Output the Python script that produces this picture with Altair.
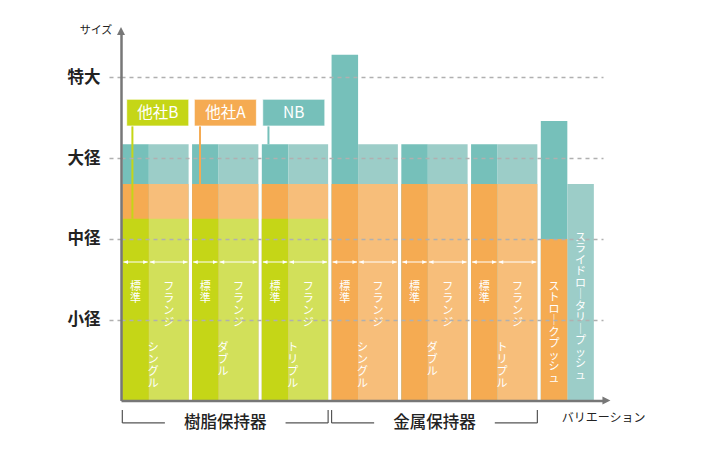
import altair as alt
import pandas as pd

# ---------------- data ----------------
groups = ["樹脂保持器", "金属保持器"]
series = ["シングル", "ダブル", "トリプル"]
kinds = ["標準", "フランジ"]
size_labels = ["小径", "中径", "大径", "特大"]
size_ticks = [1, 2, 3, 4]
companies = ["NB", "他社A", "他社B"]

# one value per pair: resin single/double/triple, metal single/double/triple
nb_std    = [3.17, 3.17, 3.17, 4.28, 3.17, 3.17]
nb_flange = [3.17, 3.17, 3.17, 3.17, 3.17, 3.17]
a_std     = [2.68, 2.68, 2.68, 2.68, 2.68, 2.68]
a_flange  = [2.68, 2.68, 2.68, 2.68, 2.68, 2.68]
b_std     = [2.25, 2.25, 2.25, None, None, None]
b_flange  = [2.25, 2.25, 2.25, None, None, None]

extra_names = ["ストロークプッシュ", "スライドロータリープッシュ"]
extra_nb = [3.46, 2.68]
extra_a = [2.0, None]

x_title = "バリエーション"
y_title = "サイズ"

# ---------------- layout (scale units) ----------------
PX_X, PX_Y = 13.26, 80.8
W, H = 482, 368.5
X_MAX, Y_MAX = W / PX_X, H / PX_Y
START, STD_W, FL_W, GAP, EXTRA_W = 0.1, 2.0, 3.0, 0.26, 2.0
PITCH = STD_W + FL_W + GAP
KIND_Y, SERIES_Y, EXTRA_Y = 1.479, 0.723, [1.479, 2.09]
ARROW_Y = 1.714

colors = {
    "NB-dark": "#76C0BA", "NB-light": "#9CCDC8",
    "他社A-dark": "#F5AB52", "他社A-light": "#F7BE7A",
    "他社B-dark": "#C5D617", "他社B-light": "#D2E05A",
}
cscale = alt.Scale(domain=list(colors.keys()), range=list(colors.values()))
FONT = "Noto Sans CJK JP"

def vert(s):
    return "\n".join(s.replace("ー", "｜"))

bars, klabels, slabels, arrows, heads = [], [], [], [], []
for k in range(6):
    s0 = START + k * PITCH
    spans = [(s0, s0 + STD_W), (s0 + STD_W, s0 + STD_W + FL_W)]
    vals = {"NB": (nb_std[k], nb_flange[k]), "他社A": (a_std[k], a_flange[k]),
            "他社B": (b_std[k], b_flange[k])}
    for z, comp in enumerate(companies):
        for (a, b), v, shade in zip(spans, vals[comp], ["dark", "light"]):
            if v is None:
                continue
            bars.append(dict(x0=a, x1=b, top=v, base=0.0, key=f"{comp}-{shade}", z=z))
    for (a, b), kind in zip(spans, kinds):
        klabels.append(dict(x=(a + b) / 2, y=KIND_Y, t=vert(kind)))
        arrows.append(dict(x0=a + 0.08, x1=b - 0.08, y=ARROW_Y))
        heads.append(dict(x=a + 0.25, y=ARROW_Y, side="L"))
        heads.append(dict(x=b - 0.25, y=ARROW_Y, side="R"))
    slabels.append(dict(x=s0 + STD_W + 0.33, y=SERIES_Y, t=vert(series[k % 3])))

e0 = START + 6 * PITCH
elabels = []
for i, name in enumerate(extra_names):
    a, b = e0 + i * EXTRA_W, e0 + (i + 1) * EXTRA_W
    shade = "dark" if i == 0 else "light"
    bars.append(dict(x0=a, x1=b, top=extra_nb[i], base=0.0, key=f"NB-{shade}", z=0))
    if extra_a[i] is not None:
        bars.append(dict(x0=a, x1=b, top=extra_a[i], base=0.0, key=f"他社A-{shade}", z=1))
    elabels.append(dict(x=(a + b) / 2, y=EXTRA_Y[i], t=vert(name)))

bars_df = pd.DataFrame(bars)
klab_df = pd.DataFrame(klabels)
elab_df = pd.DataFrame(elabels)
slab_df = pd.DataFrame(slabels)
arrow_df = pd.DataFrame(arrows)
head_df = pd.DataFrame(heads)

# brackets under groups
br_segs, br_labels = [], []
BR_TOP, BR_BOT, HALF_GAP = -0.118, -0.278, 4.55
for gi, g in enumerate(groups):
    g0 = START + gi * 3 * PITCH
    g1 = g0 + 2 * PITCH + STD_W + FL_W
    c = (g0 + g1) / 2
    br_segs += [
        dict(x0=g0, x1=g0, y0=BR_TOP, y1=BR_BOT),
        dict(x0=g1, x1=g1, y0=BR_TOP, y1=BR_BOT),
        dict(x0=g0, x1=c - HALF_GAP, y0=BR_BOT, y1=BR_BOT),
        dict(x0=c + HALF_GAP, x1=g1, y0=BR_BOT, y1=BR_BOT),
    ]
    br_labels.append(dict(x=c, y=BR_BOT, t=g))
br_df = pd.DataFrame(br_segs)
brl_df = pd.DataFrame(br_labels)

# legend callouts
legend_order = ["他社B", "他社A", "NB"]
first_vals = {"NB": nb_std[0], "他社A": a_std[0], "他社B": b_std[0]}
LB_X, LB_W, LB_Y0, LB_Y1 = [0.43, 5.53, 10.69], 4.68, 3.397, 3.728
leg = []
for i, comp in enumerate(legend_order):
    leg.append(dict(x0=LB_X[i], x1=LB_X[i] + LB_W, y0=LB_Y0, y1=LB_Y1,
                    xc=LB_X[i] + LB_W / 2, yc=(LB_Y0 + LB_Y1) / 2,
                    lx=LB_X[i] + 0.43, ly=first_vals[comp], key=f"{comp}-dark", t=comp))
leg_df = pd.DataFrame(leg)

tipU_df = pd.DataFrame([dict(x=0.0, y=Y_MAX + 0.012)])
tipR_df = pd.DataFrame([dict(x=X_MAX + 0.26, y=0.0)])

# ---------------- scales / axes ----------------
xs = alt.Scale(domain=[0, X_MAX], nice=False, zero=False)
ys = alt.Scale(domain=[0, Y_MAX], nice=False, zero=False)
lab_expr = " : ".join(f"datum.value == {v} ? '{l}'" for v, l in zip(size_ticks, size_labels)) + " : ''"
X_AX = alt.Axis(orient="bottom", labels=False, ticks=False, grid=False,
                domainColor="#777777", domainWidth=2.5, title=x_title,
                titleX=482, titleY=16.5, titleAlign="center", titleBaseline="middle",
                titleFontSize=12, titleFontWeight="normal", titleColor="#222222",
                titleFont=FONT, zindex=1)
Y_AX = alt.Axis(values=size_ticks, labelExpr=lab_expr, grid=True, gridDash=[4, 4],
                gridColor="#b0b0b0", gridWidth=1.3, tickSize=12, tickDash=[4, 4],
                tickColor="#b0b0b0", tickWidth=1.3, domainColor="#777777", domainWidth=2.5,
                labelFontSize=16.5, labelFontWeight="bold", labelColor="#222222",
                labelPadding=9, labelFont=FONT, title=y_title, titleAngle=0,
                titleX=-25.5, titleY=-2, titleAlign="center", titleBaseline="middle",
                titleFontSize=11, titleFontWeight="normal", titleColor="#222222",
                titleFont=FONT, zindex=1)

def X(f):
    return alt.X(f, scale=xs, axis=X_AX)

def Y(f):
    return alt.Y(f, scale=ys, axis=Y_AX)

bar_layer = alt.Chart(bars_df).mark_bar().encode(
    x=X("x0:Q"), x2="x1:Q", y=Y("top:Q"), y2="base:Q",
    color=alt.Color("key:N", scale=cscale, legend=None), order=alt.Order("z:Q"))

arrow_layer = alt.Chart(arrow_df).mark_rule(color="white", strokeWidth=1).encode(
    x=X("x0:Q"), x2="x1:Q", y=Y("y:Q"))
headL = alt.Chart(head_df[head_df["side"] == "L"]).mark_point(
    shape="M-1,0L1,-0.8L1,0.8Z", filled=True, color="white", size=22, opacity=1).encode(
    x=X("x:Q"), y=Y("y:Q"))
headR = alt.Chart(head_df[head_df["side"] == "R"]).mark_point(
    shape="M1,0L-1,-0.8L-1,0.8Z", filled=True, color="white", size=22, opacity=1).encode(
    x=X("x:Q"), y=Y("y:Q"))

txt = dict(lineBreak="\n", baseline="top", align="center", fontSize=11,
           color="white", font=FONT)
klab = alt.Chart(klab_df).mark_text(lineHeight=12, **txt).encode(
    x=X("x:Q"), y=Y("y:Q"), text="t:N")
slab = alt.Chart(slab_df).mark_text(lineHeight=12, **txt).encode(
    x=X("x:Q"), y=Y("y:Q"), text="t:N")
elab = alt.Chart(elab_df).mark_text(lineHeight=11.5, **txt).encode(
    x=X("x:Q"), y=Y("y:Q"), text="t:N")

leader = alt.Chart(leg_df).mark_rule(strokeWidth=2).encode(
    x=X("lx:Q"), y=Y("y0:Q"), y2="ly:Q",
    color=alt.Color("key:N", scale=cscale, legend=None))
box = alt.Chart(leg_df).mark_rect(stroke="white", strokeOpacity=0.7, strokeWidth=1).encode(
    x=X("x0:Q"), x2="x1:Q", y=Y("y0:Q"), y2="y1:Q",
    color=alt.Color("key:N", scale=cscale, legend=None))
box_t = alt.Chart(leg_df).mark_text(fontSize=15.5, color="white", font=FONT,
                                    baseline="middle", align="center").encode(
    x=X("xc:Q"), y=Y("yc:Q"), text="t:N")

br = alt.Chart(br_df).mark_rule(color="#555555", strokeWidth=1.2).encode(
    x=X("x0:Q"), x2="x1:Q", y=Y("y0:Q"), y2="y1:Q")
brl = alt.Chart(brl_df).mark_text(fontSize=16.5, fontWeight=500, color="#222222", font=FONT,
                                  baseline="middle", align="center").encode(
    x=X("x:Q"), y=Y("y:Q"), text="t:N")

tipU = alt.Chart(tipU_df).mark_point(
    shape="M0,-1L1,1L-1,1Z", filled=True, color="#777777", size=64, opacity=1).encode(
    x=X("x:Q"), y=Y("y:Q"))
tipR = alt.Chart(tipR_df).mark_point(
    shape="M1,0L-1,-1L-1,1Z", filled=True, color="#777777", size=64, opacity=1).encode(
    x=X("x:Q"), y=Y("y:Q"))

chart = alt.layer(
    bar_layer, arrow_layer, headL, headR, klab, slab, elab,
    leader, box, box_t, br, brl, tipU, tipR,
).properties(
    width=W, height=H,
    autosize=alt.AutoSizeParams(type="none"),
    padding={"left": 113, "top": 24, "right": 80, "bottom": 40},
).configure(font=FONT).configure_view(stroke=None)

chart.save("out.html", embed_options={"renderer": "svg", "actions": False})
